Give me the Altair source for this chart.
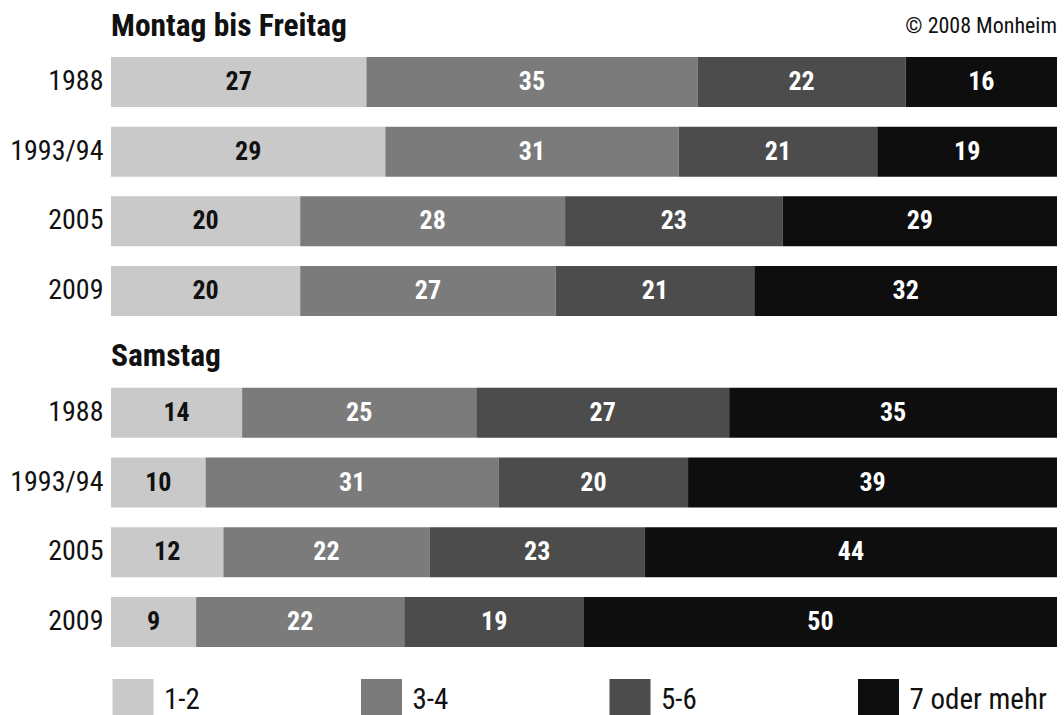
import altair as alt
import pandas as pd

FONT = "Roboto Condensed, Liberation Sans Narrow, DejaVu Sans Condensed, sans-serif"

years = ["1988", "1993/94", "2005", "2009"]
categories = ["1-2", "3-4", "5-6", "7 oder mehr"]
colors = ["#c9c9c9", "#7b7b7b", "#4c4c4c", "#0e0e0e"]

# Montag bis Freitag, values per category (rows = years)
mofr_12 = [27, 29, 20, 20]
mofr_34 = [35, 31, 28, 27]
mofr_56 = [22, 21, 23, 21]
mofr_7p = [16, 19, 29, 32]

# Samstag
sa_12 = [14, 10, 12, 9]
sa_34 = [25, 31, 22, 22]
sa_56 = [27, 20, 23, 19]
sa_7p = [35, 39, 44, 50]


def make_df(series):
    rows = []
    for ci, (cat, vals) in enumerate(zip(categories, series)):
        for y, v in zip(years, vals):
            rows.append({"year": y, "cat": cat, "order": ci, "value": v})
    return pd.DataFrame(rows)


df_mofr = make_df([mofr_12, mofr_34, mofr_56, mofr_7p])
df_sa = make_df([sa_12, sa_34, sa_56, sa_7p])

color_scale = alt.Scale(domain=categories, range=colors)
x_scale = alt.Scale(domain=[0, 1], nice=False, zero=False)


def panel(df, title, title_dy, height, y_scale, with_copyright=False):
    base = alt.Chart(df).transform_window(
        cum="sum(value)", sort=[alt.SortField("order")], groupby=["year"]
    ).transform_joinaggregate(
        total="sum(value)", groupby=["year"]
    ).transform_calculate(
        x0="(datum.cum - datum.value) / datum.total",
        x1="datum.cum / datum.total",
        xm="(datum.cum - datum.value / 2) / datum.total",
    )
    yenc = alt.Y("year:N", scale=y_scale, sort=years,
                 axis=alt.Axis(title=None, domain=False, ticks=False, grid=False,
                               labelFontSize=28, labelFont=FONT, labelColor="#111",
                               labelPadding=8))
    bars = base.mark_bar(size=50).encode(
        y=yenc,
        x=alt.X("x0:Q", scale=x_scale, axis=None),
        x2="x1:Q",
        color=alt.Color("cat:N", scale=color_scale, legend=None, sort=categories),
    )
    labels = base.mark_text(fontSize=26, fontWeight="bold", font=FONT, baseline="middle").encode(
        y=alt.Y("year:N", scale=y_scale, sort=years),
        x=alt.X("xm:Q", scale=x_scale),
        text="value:Q",
        color=alt.condition(alt.datum.cat == "1-2", alt.value("#111111"), alt.value("white")),
    )
    ttl = alt.Chart(pd.DataFrame({"t": [title]})).mark_text(
        align="left", baseline="alphabetic", fontSize=31.5, fontWeight="bold",
        font=FONT, color="#111", dy=title_dy,
    ).encode(x=alt.datum(0, scale=x_scale), y=alt.datum(years[0]), text="t:N")
    layers = [bars, labels, ttl]
    if with_copyright:
        cp = alt.Chart(pd.DataFrame({"t": ["© 2008 Monheim"]})).mark_text(
            align="right", baseline="alphabetic", fontSize=22, font=FONT,
            color="#111", dy=-49,
        ).encode(x=alt.datum(1, scale=x_scale), y=alt.datum(years[0]), text="t:N")
        layers.append(cp)
    return alt.layer(*layers).properties(width=946, height=height)


y_top = alt.Scale(domain=years, paddingInner=0.2857, paddingOuter=0)
# bottom panel: extra room above the first bar for the "Samstag" heading
y_bottom = alt.Scale(domain=years, paddingInner=0.2857, paddingOuter=0.2857, align=1)

top = panel(df_mofr, "Montag bis Freitag", -46, 259, y_top, with_copyright=True)
bottom = panel(df_sa, "Samstag", -47, 299, y_bottom)

# legend row built from the category list
leg_df = pd.DataFrame({"cat": categories})
leg_x = alt.Scale(type="point", domain=categories, range=[22, 767.5], padding=0)
leg_sq = alt.Chart(leg_df).mark_square(size=1681, opacity=1).encode(
    x=alt.X("cat:N", scale=leg_x, axis=None, sort=categories),
    color=alt.Color("cat:N", scale=color_scale, legend=None, sort=categories),
)
leg_tx = alt.Chart(leg_df).mark_text(
    align="left", baseline="middle", fontSize=29, font=FONT, color="#111", dx=31, dy=0,
).encode(x=alt.X("cat:N", scale=leg_x, axis=None, sort=categories), text="cat:N")
leg = alt.layer(leg_sq, leg_tx).properties(width=946, height=41)

chart = alt.vconcat(top, bottom, leg, spacing=32, bounds="flush").resolve_scale(
    color="shared"
).properties(
    padding={"left": 9, "top": 10, "right": 5, "bottom": 0},
    background="white",
).configure_view(stroke=None)

chart.save("out.html", embed_options={"renderer": "svg", "actions": False})
